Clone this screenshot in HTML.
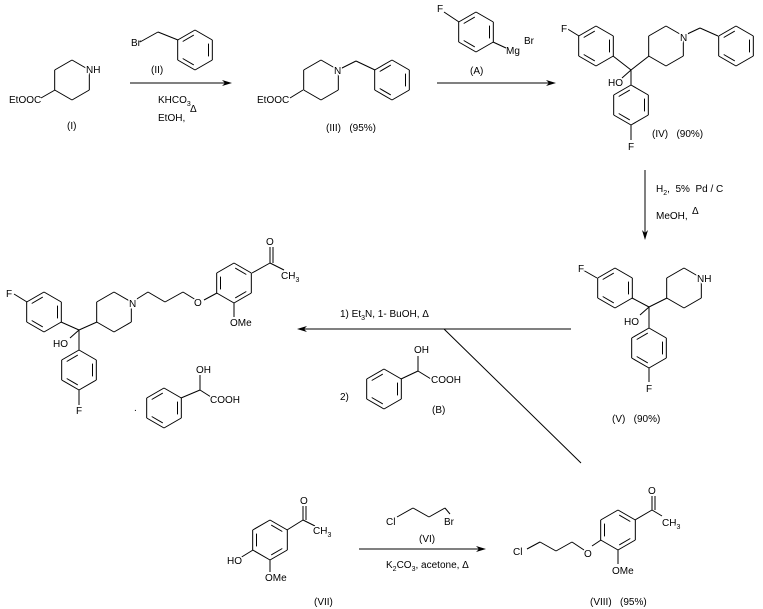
<!DOCTYPE html>
<html><head><meta charset="utf-8"><style>
html,body{margin:0;padding:0;background:#fff;}
svg{display:block;}
text{font-family:"Liberation Sans",Arial,sans-serif;font-size:10px;fill:#000;}
.l{paint-order:stroke;stroke:#fff;stroke-width:3px;}
</style></head><body>
<svg id="s" width="763" height="609" viewBox="0 0 763 609" xmlns="http://www.w3.org/2000/svg">
<g id="g" stroke="#000" stroke-width="1" fill="none"></g>
<g id="t">
<!-- I -->
<text x="9" y="103">EtOOC</text>
<text class="l" x="86" y="73">NH</text>
<text x="67" y="129">(I)</text>
<!-- II -->
<text x="131" y="46">Br</text>
<text x="151" y="73">(II)</text>
<text x="158" y="103">KHCO<tspan font-size="7" dy="3">3</tspan></text>
<text x="158" y="121">EtOH,</text>
<text x="190" y="112">Δ</text>
<!-- III -->
<text x="257" y="103">EtOOC</text>
<text class="l" x="334" y="74">N</text>
<text x="326" y="131">(III)&#160;&#160;&#160;(95%)</text>
<!-- A -->
<text class="l" x="437" y="12">F</text>
<text x="506" y="54">Mg</text>
<text x="524" y="44">Br</text>
<text x="470" y="74">(A)</text>
<!-- IV -->
<text class="l" x="561" y="32">F</text>
<text class="l" x="680" y="41">N</text>
<text x="608" y="86">HO</text>
<text class="l" x="628" y="150">F</text>
<text x="652" y="137">(IV)&#160;&#160;&#160;(90%)</text>
<text x="656" y="192">H<tspan font-size="7" dy="3">2</tspan><tspan dy="-3">,&#160;&#160;5%&#160;&#160;Pd / C</tspan></text>
<text x="656" y="219">MeOH,</text>
<text x="692" y="214">Δ</text>
<!-- V -->
<text class="l" x="578" y="272">F</text>
<text class="l" x="697" y="282">NH</text>
<text x="624" y="325">HO</text>
<text class="l" x="646" y="392">F</text>
<text x="612" y="422">(V)&#160;&#160;&#160;(90%)</text>
<!-- reaction 4 -->
<text x="340" y="317">1) Et<tspan font-size="7" dy="3">3</tspan><tspan dy="-3">N, 1- BuOH, Δ</tspan></text>
<text x="340" y="400">2)</text>
<text class="l" x="414" y="353">OH</text>
<text class="l" x="431" y="383">COOH</text>
<text x="432" y="413">(B)</text>
<!-- product -->
<text class="l" x="6" y="297">F</text>
<text class="l" x="129" y="307">N</text>
<text class="l" x="194" y="306">O</text>
<text class="l" x="230" y="326">OMe</text>
<text class="l" x="266" y="245">O</text>
<text class="l" x="281" y="279">CH<tspan font-size="7" dy="3">3</tspan></text>
<text x="53" y="347">HO</text>
<text class="l" x="76" y="414">F</text>
<text x="134" y="411">.</text>
<text class="l" x="196" y="373">OH</text>
<text class="l" x="210" y="403">COOH</text>
<!-- VII -->
<text class="l" x="227" y="564">HO</text>
<text class="l" x="265" y="581">OMe</text>
<text class="l" x="300" y="504">O</text>
<text class="l" x="313" y="534">CH<tspan font-size="7" dy="3">3</tspan></text>
<text x="314" y="605">(VII)</text>
<text class="l" x="386" y="525">Cl</text>
<text class="l" x="444" y="525">Br</text>
<text x="419" y="542">(VI)</text>
<text x="386" y="568">K<tspan font-size="7" dy="3">2</tspan><tspan dy="-3">CO</tspan><tspan font-size="7" dy="3">3</tspan><tspan dy="-3">, acetone, Δ</tspan></text>
<!-- VIII -->
<text class="l" x="513" y="555">Cl</text>
<text class="l" x="584" y="557">O</text>
<text class="l" x="612" y="574">OMe</text>
<text class="l" x="648" y="494">O</text>
<text class="l" x="662" y="526">CH<tspan font-size="7" dy="3">3</tspan></text>
<text x="590" y="605">(VIII)&#160;&#160;&#160;(95%)</text>
</g>
</svg>
<script>
var g=document.getElementById('g'),NS='http://www.w3.org/2000/svg';
function L(a,b,c,d){var e=document.createElementNS(NS,'line');e.setAttribute('x1',a);e.setAttribute('y1',b);e.setAttribute('x2',c);e.setAttribute('y2',d);g.appendChild(e);}
function P(a){var o=[];for(var i=0;i<a.length;i+=2)o.push(a[i]+','+a[i+1]);var e=document.createElementNS(NS,'polygon');e.setAttribute('points',o.join(' '));e.setAttribute('fill','#000');e.setAttribute('stroke','none');g.appendChild(e);}
function V(cx,cy,r){r=r||20;var h=r*0.866;return [[cx,cy-r],[cx+h,cy-r/2],[cx+h,cy+r/2],[cx,cy+r],[cx-h,cy+r/2],[cx-h,cy-r/2]];}
function R(cx,cy,ar,off,skip){var v=V(cx,cy);skip=skip||[];for(var i=0;i<6;i++){if(skip.indexOf(i)>=0)continue;var a=v[i],b=v[(i+1)%6];L(a[0],a[1],b[0],b[1]);}
 if(ar){for(var k=0;k<3;k++){var i=(k*2+(off||0))%6,a=v[i],b=v[(i+1)%6];var f=0.78;
 var ax=cx+(a[0]-cx)*f,ay=cy+(a[1]-cy)*f,bx=cx+(b[0]-cx)*f,by=cy+(b[1]-cy)*f;var mx=(ax+bx)/2,my=(ay+by)/2;var s=0.82;
 L(mx+(ax-mx)*s,my+(ay-my)*s,mx+(bx-mx)*s,my+(by-my)*s);}}return v;}
function arrowR(x1,x2,y){L(x1,y,x2-2,y);P([x2,y,x2-10,y-3,x2-7,y,x2-10,y+3]);}
function arrowL(x1,x2,y){L(x1,y,x2+2,y);P([x2,y,x2+10,y-3,x2+7,y,x2+10,y+3]);}
function arrowD(x,y1,y2){L(x,y1,x,y2-2);P([x,y2,x-3,y2-10,x,y2-7,x+3,y2-10]);}
R(72,80,false);L(55,90,41,98);
R(195,50,true,1);L(140,42,158,32);L(158,32,178,40);
arrowR(130,232,83);
R(321,80,false);L(303,90,290,98);L(338,70,356,61);L(356,61,375,70);R(392,80,true,1);
arrowR(437,556,83);
R(476,32,true,1);L(459,22,444,12);L(493,42,506,48);
R(596,46,true,1);L(579,36,566,28);L(613,56,631,70);R(666,46,false);L(649,56,631,70);
L(683,36,700,28);L(700,28,718,36);R(736,46,true,1);L(631,70,631,85);L(631,70,622,78);R(631,105,true,1);L(631,125,631,140);
arrowD(645,170,240);
R(615,288,true,1);L(597,278,583,270);L(632,298,649,307);R(684,288,false);L(667,298,649,307);L(649,307,640,315);
L(649,307,649,328);R(649,348,true,1);L(649,368,649,382);
arrowL(571,297,329);L(444,329,581,463);
R(384,389,true,1);L(401,379,418,371);L(418,371,418,356);L(418,371,431,379);
R(44,312,true,1);L(27,302,14,294);L(61,322,79,330);R(114,312,false);L(97,322,79,330);L(79,330,70,338);
L(132,302,148,292);L(148,292,165,302);L(165,302,183,292);L(183,292,196,300);
R(234,283,true,0);L(217,293,204,300);L(234,303,234,317);
L(252,273,270,263);L(270,263,270,247);L(273,263,273,247);L(270,263,284,270);
L(79,330,79,350);R(79,370,true,1);L(79,390,79,405);
R(164,408,true,1);L(181,398,200,390);L(200,390,200,375);L(200,390,211,397);
R(270,540,true,0);L(253,550,240,558);L(270,560,270,572);
L(287,530,303,520);L(303,520,303,506);L(306,520,306,506);L(303,520,315,526);
L(397,517,413,508);L(413,508,429,517);L(429,517,445,508);L(445,508,450,514);
arrowR(359,486,549);
R(618,530,true,0);L(601,540,592,546);L(618,550,618,564);
L(635,520,652,510);L(652,510,652,496);L(655,510,655,496);L(652,510,662,516);
L(584,550,572,542);L(572,542,556,551);L(556,551,540,542);L(540,542,527,549);
</script>
</body></html>
